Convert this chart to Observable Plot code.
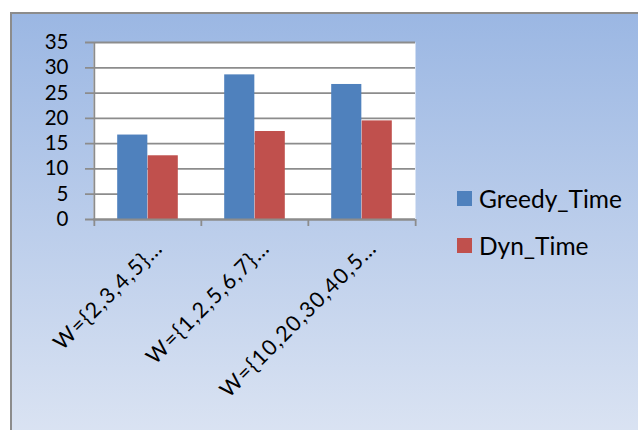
<!DOCTYPE html>
<html>
<head>
<meta charset="utf-8">
<script src="https://cdn.jsdelivr.net/npm/d3@7"></script>
<script src="https://cdn.jsdelivr.net/npm/@observablehq/plot@0.6"></script>
<style>
  html, body { margin: 0; padding: 0; background: #ffffff; overflow: hidden; }
  #wrap { position: relative; width: 638px; height: 430px; font-family: Lato, "Open Sans", sans-serif; }
  #box { position: absolute; left: 10px; top: 12px; width: 660px; height: 440px;
         border-left: 2px solid #8c8c8c; border-top: 2px solid #8c8c8c;
         background: linear-gradient(to bottom, #9bb7e3 0%, #dde5f3 100%); }
  #chart { position: absolute; left: 0; top: 0; }
  #chart svg { overflow: visible; background: transparent; color: #000; }
  #legend { position: absolute; left: 457px; top: 186px; font-size: 24.5px; color: #000; }
  .item { display: flex; align-items: center; height: 24px; white-space: nowrap; }
  .item + .item { margin-top: 23.5px; }
  .sw { width: 15px; height: 15px; margin-right: 7px; }
</style>
</head>
<body>
<div id="wrap">
  <div id="box"></div>
  <div id="chart"></div>
  <div id="legend"></div>
</div>
<script>
const categories = ["W={2,3,4,5}…", "W={1,2,5,6,7}…", "W={10,20,30,40,5…"];
const seriesNames = ["Greedy_Time", "Dyn_Time"];
const greedyTime = [16.7, 28.6, 26.7];
const dynTime = [12.6, 17.4, 19.5];
const seriesColors = ["#4f81bd", "#c0504d"];
const yTicks = [0, 5, 10, 15, 20, 25, 30, 35];

const rows = [];
categories.forEach((c, i) => {
  rows.push({category: c, series: seriesNames[0], value: greedyTime[i]});
  rows.push({category: c, series: seriesNames[1], value: dynTime[i]});
});

const W = 638, H = 430;
const mL = 93, mR = 223, mT = 42, mB = 211;
const bw = (W - mL - mR) / categories.length;
const gap = 23.2;
const barW = (bw - 2 * gap) / 2;

const plot = Plot.plot({
  width: W,
  height: H,
  marginLeft: mL,
  marginRight: mR,
  marginTop: mT,
  marginBottom: mB,
  style: {background: "transparent", fontFamily: "Lato, 'Open Sans', sans-serif", color: "#000"},
  x: {type: "band", domain: categories, padding: 0, axis: null},
  y: {domain: [0, 35], axis: null},
  color: {domain: seriesNames, range: seriesColors},
  marks: [
    Plot.frame({fill: "white", stroke: null}),
    Plot.ruleY(yTicks, {stroke: "#8c8c8c", strokeWidth: 1.8, insetLeft: -8}),
    Plot.barY(rows.filter(d => d.series === seriesNames[0]), {
      x: "category", y: "value", fill: "series",
      insetLeft: gap, insetRight: bw - gap - barW
    }),
    Plot.barY(rows.filter(d => d.series === seriesNames[1]), {
      x: "category", y: "value", fill: "series",
      insetLeft: gap + barW, insetRight: gap
    }),
    Plot.ruleX([categories[0]], {x: d => d, dx: -bw / 2, stroke: "#8c8c8c", strokeWidth: 1.8}),
    Plot.ruleX(categories, {x: d => d, dx: -bw / 2, y1: 0, y2: 0, insetBottom: -7, stroke: "#8c8c8c", strokeWidth: 1.8}),
    Plot.ruleX([categories[categories.length - 1]], {x: d => d, dx: bw / 2, y1: 0, y2: 0, insetBottom: -7, stroke: "#8c8c8c", strokeWidth: 1.8}),
    Plot.ruleY([0], {stroke: "#8c8c8c", strokeWidth: 1.8}),
    Plot.axisY({ticks: yTicks, tickSize: 0, tickPadding: 25, fontSize: 20.5, label: null, fill: "#000"}),
    Plot.text(categories, {
      x: d => d, y: () => 0, text: d => d, rotate: -45,
      textAnchor: "end", lineAnchor: "bottom", dx: 16, dy: 30,
      fontSize: 21.5, fill: "#000"
    })
  ]
});
d3.select(plot).selectAll("g[aria-label='text'] text").style("letter-spacing", "1.3px");
document.getElementById("chart").appendChild(plot);

const legend = document.getElementById("legend");
seriesNames.forEach((s, i) => {
  const item = document.createElement("div");
  item.className = "item";
  const sw = document.createElement("span");
  sw.className = "sw";
  sw.style.background = seriesColors[i];
  const label = document.createElement("span");
  label.textContent = s;
  item.appendChild(sw);
  item.appendChild(label);
  legend.appendChild(item);
});
</script>
</body>
</html>
